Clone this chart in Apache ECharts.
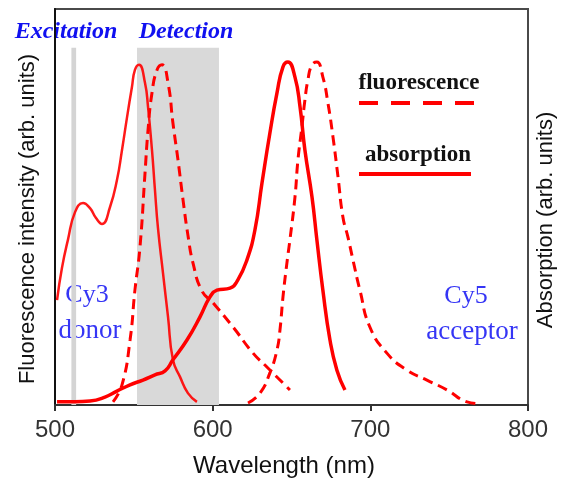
<!DOCTYPE html>
<html>
<head>
<meta charset="utf-8">
<script src="https://cdn.jsdelivr.net/npm/echarts@6/dist/echarts.min.js"></script>
<style>html,body{margin:0;padding:0;background:#fff}#c{width:561px;height:482px}</style>
</head>
<body>
<div id="c"></div>
<script>
// Wavelength (nm) axis ticks
const xTicks = [500, 600, 700, 800];
// Cy3 absorption [nm, arb]
const cy3Abs = [[501.3,26.5],[504.4,34.6],[508.2,41.7],[512.7,48.7],[517.8,51.0],[522.2,49.7],[526.0,47.2],[529.8,45.7],[534.9,50.0],[539.3,56.8],[542.5,64.4],[545.7,72.7],[548.8,80.3],[550.7,84.6],[553.3,85.9],[557.1,81.3],[559.0,75.3],[561.5,64.4],[563.4,54.3],[565.3,44.7],[568.5,33.3],[571.7,22.2],[574.8,11.4],[579.3,7.1],[584.3,3.0],[590.0,0.8]];
// Cy3 fluorescence
const cy3Fl = [[536.8,0.8],[542.5,5.1],[547.6,16.4],[550.7,29.0],[553.9,39.9],[557.1,58.6],[559.0,69.4],[561.5,78.8],[564.7,84.6],[567.9,85.9],[571.7,81.3],[574.8,71.2],[578.0,61.9],[581.2,51.8],[584.3,42.9],[587.5,35.9],[593.2,28.8],[600.2,25.8],[612.9,19.7],[625.6,13.1],[634.4,9.6],[649.0,3.8]];
// Cy5 absorption
const cy5Abs = [[501.3,0.8],[512.7,0.8],[522.2,1.0],[531.7,2.0],[539.3,3.5],[547.6,5.1],[555.8,6.3],[563.4,7.6],[569.8,8.6],[574.8,11.4],[583.7,16.4],[591.9,22.2],[598.3,27.3],[602.7,29.0],[611.0,29.5],[616.0,31.6],[621.7,36.6],[626.8,44.2],[631.3,56.1],[636.3,68.7],[640.8,78.8],[644.6,85.4],[647.7,86.6],[652.2,82.8],[655.4,75.3],[658.5,64.4],[663.0,52.5],[666.1,41.7],[669.9,29.0],[674.4,16.4],[678.8,8.8],[683.9,3.8]];
// Cy5 fluorescence
const cy5Fl = [[622.4,0.5],[630.0,3.0],[636.3,8.1],[640.8,13.9],[642.7,19.0],[644.6,27.3],[647.1,35.9],[649.0,41.7],[652.2,52.5],[654.1,61.9],[656.6,70.2],[658.5,77.0],[660.4,82.1],[663.0,85.9],[666.1,86.6],[669.9,82.8],[673.1,76.3],[676.3,67.7],[679.5,57.6],[682.6,47.5],[685.8,42.4],[689.0,36.6],[693.4,29.0],[699.7,19.7],[710.5,13.1],[723.2,8.8],[735.9,6.3],[748.6,3.8],[761.3,0.8],[769.5,0.3]];
// shaded windows [from, to, top]
const excitationBand = [510.4, 513.4, 90.2];
const detectionBand = [552, 604, 90.2];

const chart = echarts.init(document.getElementById('c'), null, {renderer: 'canvas'});
const RED = '#ff0000';
const serif = '"Liberation Serif", "Times New Roman", serif';
const sans = '"Liberation Sans", Arial, sans-serif';

chart.setOption({
  animation: false,
  grid: {left: 55, right: 33, top: 9, bottom: 77, show: true, borderColor: '#4a4a4a', borderWidth: 2},
  xAxis: {
    type: 'value', min: xTicks[0], max: xTicks[xTicks.length - 1], interval: 100,
    axisLine: {show: true, onZero: false, lineStyle: {color: '#333', width: 2}},
    axisTick: {show: true, length: 6, lineStyle: {color: '#333', width: 2}},
    axisLabel: {color: '#333', fontSize: 24, fontFamily: sans, margin: 13},
    splitLine: {show: false}
  },
  yAxis: {
    type: 'value', min: 0, max: 100,
    axisLine: {show: true, lineStyle: {color: '#111', width: 2}},
    axisTick: {show: false}, axisLabel: {show: false}, splitLine: {show: false}
  },
  series: [
    {
      type: 'line', data: [], silent: true,
      markArea: {
        silent: true,
        data: [
          [{coord: [excitationBand[0], 0], itemStyle: {color: '#d4d4d4'}}, {coord: [excitationBand[1], excitationBand[2]]}],
          [{coord: [detectionBand[0], 0], itemStyle: {color: '#d9d9d9'}}, {coord: [detectionBand[1], detectionBand[2]]}]
        ]
      }
    },
    {type: 'line', data: cy3Abs, symbol: 'none', smooth: 0.5, lineStyle: {color: RED, width: 2.5, opacity: 0.9}},
    {type: 'line', data: cy3Fl, symbol: 'none', smooth: 0.5, lineStyle: {color: RED, width: 3, type: [10, 6]}},
    {type: 'line', data: cy5Abs, symbol: 'none', smooth: 0.5, lineStyle: {color: RED, width: 3.5}},
    {type: 'line', data: cy5Fl, symbol: 'none', smooth: 0.5, lineStyle: {color: RED, width: 3, type: [10, 6]}}
  ],
  graphic: [
    {type: 'text', x: 66, y: 32, style: {text: 'Excitation', fill: '#1010f0', font: 'italic bold 24px ' + serif, align: 'center', verticalAlign: 'middle'}},
    {type: 'text', x: 186, y: 32, style: {text: 'Detection', fill: '#1010f0', font: 'italic bold 24px ' + serif, align: 'center', verticalAlign: 'middle'}},
    {type: 'text', x: 419, y: 83, style: {text: 'fluorescence', fill: '#111', font: 'bold 23px ' + serif, align: 'center', verticalAlign: 'middle'}},
    {type: 'line', shape: {x1: 359, y1: 103, x2: 476, y2: 103}, style: {stroke: RED, lineWidth: 4, lineDash: [19, 13]}},
    {type: 'text', x: 418, y: 155, style: {text: 'absorption', fill: '#111', font: 'bold 23px ' + serif, align: 'center', verticalAlign: 'middle'}},
    {type: 'line', shape: {x1: 359, y1: 174, x2: 471, y2: 174}, style: {stroke: RED, lineWidth: 4}},
    {type: 'text', x: 87, y: 295, style: {text: 'Cy3', fill: '#3535f5', font: '26px ' + serif, align: 'center', verticalAlign: 'middle'}},
    {type: 'text', x: 90, y: 331, style: {text: 'donor', fill: '#3535f5', font: '27px ' + serif, align: 'center', verticalAlign: 'middle'}},
    {type: 'text', x: 466, y: 296, style: {text: 'Cy5', fill: '#3535f5', font: '26px ' + serif, align: 'center', verticalAlign: 'middle'}},
    {type: 'text', x: 472, y: 332, style: {text: 'acceptor', fill: '#3535f5', font: '27px ' + serif, align: 'center', verticalAlign: 'middle'}},
    {type: 'text', x: 284, y: 466, style: {text: 'Wavelength (nm)', fill: '#111', font: '24px ' + sans, align: 'center', verticalAlign: 'middle'}},
    {type: 'text', x: 28, y: 219, rotation: Math.PI / 2, style: {text: 'Fluorescence intensity (arb. units)', fill: '#111', font: '22px ' + sans, align: 'center', verticalAlign: 'middle'}},
    {type: 'text', x: 546, y: 220, rotation: Math.PI / 2, style: {text: 'Absorption (arb. units)', fill: '#111', font: '22px ' + sans, align: 'center', verticalAlign: 'middle'}}
  ]
});
</script>
</body>
</html>
